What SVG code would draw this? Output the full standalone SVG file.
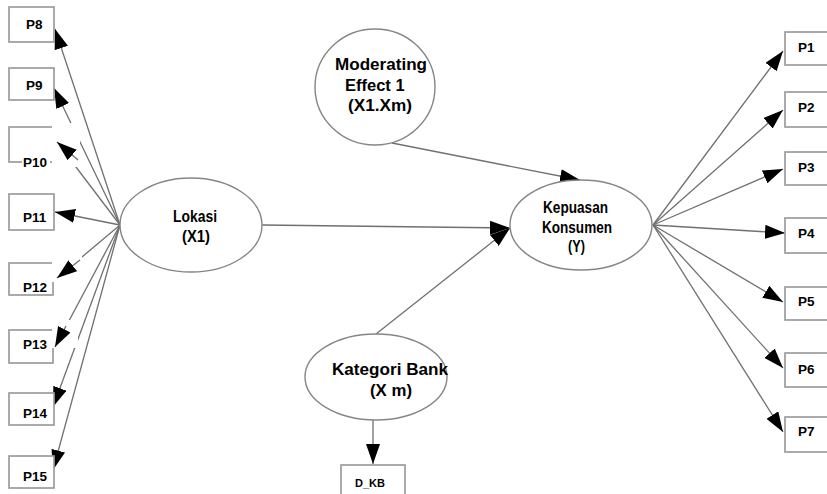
<svg xmlns="http://www.w3.org/2000/svg" width="827" height="494" viewBox="0 0 827 494">
  <style>
    .ind { fill: #ffffff; stroke: #9c9c9c; stroke-width: 1.7; }
    .lat { fill: #ffffff; stroke: #858585; stroke-width: 1.4; }
    .edge { fill: none; stroke: #707070; stroke-width: 1.3; marker-end: url(#head); }
    .lbl { font-family: "Liberation Sans", Arial, sans-serif; font-weight: bold; fill: #000000; }
    .ptxt { font-size: 13.5px; }
    .big { font-size: 16px; }
    .patch { fill: #ffffff; stroke: none; }
  </style>
  <defs>
    <marker id="head" markerUnits="userSpaceOnUse" markerWidth="20" markerHeight="14" refX="20" refY="7" orient="auto">
      <path d="M0,0 L20,7 L0,14 Z" fill="#000000"/>
    </marker>
  </defs>
  <rect width="827" height="494" fill="#ffffff"/>

  <!-- connectors -->
  <g id="connectors">
    <!-- Lokasi to its indicators -->
    <path class="edge" d="M120,225 L55,29"/>
    <path class="edge" d="M120,225 L54,88"/>
    <path class="edge" d="M120,225 L57,142"/>
    <path class="edge" d="M120,225 L55,212"/>
    <path class="edge" d="M120,225 L57,278"/>
    <path class="edge" d="M120,225 L55,347"/>
    <path class="edge" d="M120,225 L53,407"/>
    <path class="edge" d="M120,225 L53,470"/>
    <!-- Kepuasan Konsumen to its indicators -->
    <path class="edge" d="M653,225 L783,51"/>
    <path class="edge" d="M653,225 L783,110"/>
    <path class="edge" d="M653,225 L783,169"/>
    <path class="edge" d="M653,225 L785,233"/>
    <path class="edge" d="M653,225 L783,302"/>
    <path class="edge" d="M653,225 L783,368"/>
    <path class="edge" d="M653,225 L783,432"/>
    <!-- structural paths -->
    <path class="edge" d="M262,225 L510,228"/>
    <path class="edge" d="M376,334 L510,228"/>
    <path class="edge" d="M392,143 L580,180"/>
    <path class="edge" d="M373,420 L373,464"/>
  </g>

  <!-- left indicators -->
  <g id="P8"><rect class="ind" x="9" y="7" width="45" height="35"/><text class="lbl ptxt" x="26" y="29">P8</text></g>
  <g id="P9"><rect class="ind" x="9" y="68" width="45" height="32"/><text class="lbl ptxt" x="26" y="90">P9</text></g>
  <g id="P10"><rect class="ind" x="9" y="127" width="44" height="35"/><rect class="patch" x="22" y="156" width="28" height="12"/><text class="lbl ptxt" x="23" y="167">P10</text></g>
  <g id="P11"><rect class="ind" x="9" y="194" width="45" height="36"/><text class="lbl ptxt" x="23" y="222">P11</text></g>
  <g id="P12"><rect class="ind" x="9" y="263" width="44" height="32"/><text class="lbl ptxt" x="23" y="292">P12</text></g>
  <g id="P13"><rect class="ind" x="9" y="330" width="44" height="33"/><text class="lbl ptxt" x="23" y="349">P13</text></g>
  <g id="P14"><rect class="ind" x="9" y="393" width="45" height="32"/><text class="lbl ptxt" x="23" y="418">P14</text></g>
  <g id="P15"><rect class="ind" x="9" y="456" width="45" height="32"/><text class="lbl ptxt" x="23" y="481">P15</text></g>

  <!-- white cut-outs over the box edges, with their arrowheads on top -->
  <g id="cutouts">
    <rect class="patch" x="52" y="123" width="28" height="44"/>
    <rect class="patch" x="52" y="255" width="30" height="27"/>
    <rect class="patch" x="52" y="320" width="26" height="28"/>
    <path class="edge" d="M78,160 L57,142"/>
    <path class="edge" d="M80,260 L57,278"/>
    <path class="edge" d="M66,326 L55,347"/>
  </g>

  <!-- right indicators -->
  <g id="P1"><rect class="ind" x="785" y="32" width="47" height="33"/><text class="lbl ptxt" x="798" y="52">P1</text></g>
  <g id="P2"><rect class="ind" x="785" y="92" width="47" height="35"/><text class="lbl ptxt" x="798" y="112">P2</text></g>
  <g id="P3"><rect class="ind" x="785" y="152" width="47" height="33"/><text class="lbl ptxt" x="798" y="172">P3</text></g>
  <g id="P4"><rect class="ind" x="785" y="218" width="47" height="35"/><text class="lbl ptxt" x="798" y="238">P4</text></g>
  <g id="P5"><rect class="ind" x="785" y="287" width="47" height="33"/><text class="lbl ptxt" x="798" y="306">P5</text></g>
  <g id="P6"><rect class="ind" x="785" y="353" width="47" height="34"/><text class="lbl ptxt" x="798" y="374">P6</text></g>
  <g id="P7"><rect class="ind" x="785" y="417" width="47" height="35"/><text class="lbl ptxt" x="798" y="436">P7</text></g>

  <!-- latent variables -->
  <g id="lokasi">
    <ellipse class="lat" cx="191" cy="225" rx="71" ry="47"/>
    <text class="lbl big" x="195" y="222" text-anchor="middle" textLength="44" lengthAdjust="spacingAndGlyphs">Lokasi</text>
    <text class="lbl big" x="196" y="242" text-anchor="middle" textLength="28" lengthAdjust="spacingAndGlyphs">(X1)</text>
  </g>
  <g id="kepuasan">
    <ellipse class="lat" cx="581" cy="225" rx="71" ry="45"/>
    <text class="lbl big" x="575.5" y="213" text-anchor="middle" textLength="65" lengthAdjust="spacingAndGlyphs">Kepuasan</text>
    <text class="lbl big" x="577" y="233" text-anchor="middle" textLength="70" lengthAdjust="spacingAndGlyphs">Konsumen</text>
    <text class="lbl big" x="576.5" y="252" text-anchor="middle" textLength="17" lengthAdjust="spacingAndGlyphs">(Y)</text>
  </g>
  <g id="moderating">
    <ellipse class="lat" cx="375" cy="87" rx="60" ry="58"/>
    <text class="lbl" font-size="16.5" x="335" y="70" textLength="92" lengthAdjust="spacingAndGlyphs">Moderating</text>
    <text class="lbl" font-size="16.5" x="345" y="91">Effect 1</text>
    <text class="lbl" font-size="16.5" x="348" y="111" textLength="64" lengthAdjust="spacingAndGlyphs">(X1.Xm)</text>
  </g>
  <g id="kategori">
    <ellipse class="lat" cx="376" cy="377" rx="71" ry="43"/>
    <text class="lbl" font-size="16.5" x="332" y="375" textLength="116" lengthAdjust="spacingAndGlyphs">Kategori Bank</text>
    <text class="lbl" font-size="16.5" x="370" y="396" textLength="42" lengthAdjust="spacingAndGlyphs">(X m)</text>
  </g>
  <g id="D_KB">
    <rect class="ind" x="341" y="465" width="64" height="34"/>
    <text class="lbl" font-size="11" x="355" y="487" textLength="30" lengthAdjust="spacingAndGlyphs">D_KB</text>
  </g>
</svg>
